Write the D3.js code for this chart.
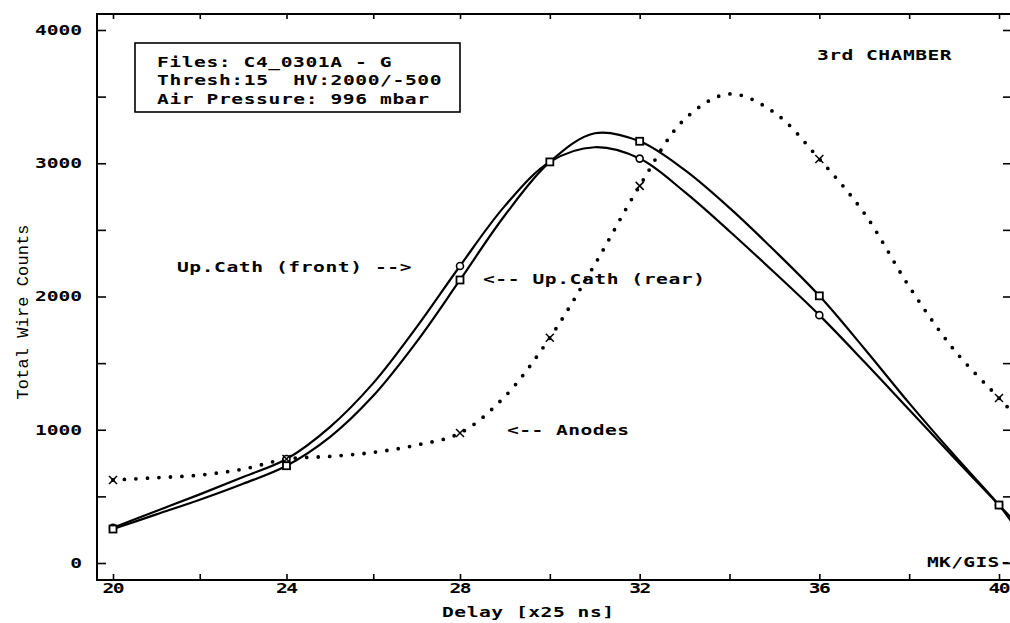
<!DOCTYPE html>
<html>
<head>
<meta charset="utf-8">
<script src="https://cdn.jsdelivr.net/npm/d3@7"></script>
<style>
body { margin: 0; background: #fff; }
text { font-family: "DejaVu Sans Mono", monospace; font-weight: bold; font-size: 14px; fill: #000; white-space: pre; }
</style>
</head>
<body>
<svg id="chart" width="1010" height="623"></svg>
<script>
// delay [x25 ns] sample points for the two cathode curves
const delay = [20, 21, 22, 23, 24, 25, 26, 27, 28, 29, 30, 31, 32, 33, 34, 35, 36, 37, 38, 39, 40, 40.3];
const cathFront = [265, 390, 515, 645, 780, 1020, 1350, 1770, 2229, 2680, 3010, 3120, 3035, 2785, 2490, 2180, 1860, 1510, 1150, 790, 435, 330];
const cathRear  = [255, 365, 475, 595, 730, 945, 1255, 1660, 2124, 2610, 3010, 3225, 3165, 2950, 2665, 2345, 2005, 1610, 1200, 810, 435, 300];

// anode curve (dotted)
const delayAnode = [20, 21, 22, 23, 24, 25, 26, 27, 28, 29, 30, 31, 32, 33, 34, 35, 36, 37, 38, 39, 40, 40.3];
const anodes = [623, 640, 660, 705, 780, 800, 830, 885, 975, 1250, 1690, 2240, 2830, 3330, 3520, 3380, 3032, 2625, 2075, 1600, 1238, 1130];

// measured points that carry a marker
const markFront = [20, 24, 28, 32, 36, 40];
const markRear = [20, 24, 28, 30, 32, 36, 40];
const markAnode = [20, 24, 28, 30, 32, 36, 40];

const xTicks = d3.range(20, 41, 2);
const yTicks = d3.range(0, 4001, 500);
const infoLines = ["Files: C4_0301A - G", "Thresh:15  HV:2000/-500", "Air Pressure: 996 mbar"];

const svg = d3.select("#chart");
const pLeft = 97, pRight = 1011, pTop = 14, pBottom = 580;
const sx = 1.4;   // the plotter font is wide and squat

// the scanned original is slightly stretched right of 28
var x = d3.scaleLinear().domain([20, 28, 40]).range([113, 460, 999]);
var y = d3.scaleLinear().domain([0, 4000]).range([563, 30]);

const wide = function(sel) {
    sel.attr("textLength", function() { return (this.textContent.length * 12.5 - 3) / sx; })
       .attr("lengthAdjust", "spacing");
};

const label = function(s, px, py) {
    return svg.append("text")
        .attr("transform", "translate(" + px + "," + py + ") scale(" + sx + ",1)")
        .text(s)
        .call(wide);
};

svg.append("defs").append("clipPath").attr("id", "plot")
    .append("rect").attr("x", pLeft).attr("y", pTop)
    .attr("width", pRight - pLeft).attr("height", pBottom - pTop);

// axes (ticks point inward)
const bx = svg.append("g").attr("transform", "translate(0," + pBottom + ")")
    .call(d3.axisBottom(x).tickValues(xTicks).tickSize(-6).tickPadding(3)
        .tickFormat(d => d % 4 === 0 ? d : ""));
const tx = svg.append("g").attr("transform", "translate(0," + pTop + ")")
    .call(d3.axisTop(x).tickValues(xTicks).tickSize(-5).tickFormat(""));
const ly = svg.append("g").attr("transform", "translate(" + pLeft + ",0)")
    .call(d3.axisLeft(y).tickValues(yTicks).tickSize(-9).tickPadding(15)
        .tickFormat(d => d % 1000 === 0 ? d : ""));
const ry = svg.append("g").attr("transform", "translate(" + pRight + ",0)")
    .call(d3.axisRight(y).tickValues(yTicks).tickSize(-8).tickFormat(""));

[bx, tx, ly, ry].forEach(function(g) {
    g.select(".domain").remove();
    g.selectAll("line").attr("stroke", "#000").attr("stroke-width", 1.6);
    g.selectAll("text")
        .attr("font-family", null).attr("font-size", null)
        .attr("x", function() { return (+this.getAttribute("x") || 0) / sx; })
        .attr("transform", "scale(" + sx + ",1)")
        .call(wide);
});

svg.append("rect")
    .attr("x", pLeft).attr("y", pTop)
    .attr("width", pRight - pLeft).attr("height", pBottom - pTop)
    .attr("fill", "none").attr("stroke", "#000").attr("stroke-width", 2);

const plot = svg.append("g").attr("clip-path", "url(#plot)");

const line = d3.line()
    .x(d => x(d[0]))
    .y(d => y(d[1]))
    .curve(d3.curveCatmullRom.alpha(0.5));

plot.append("path")
    .datum(delayAnode.map((d, i) => [d, anodes[i]]))
    .attr("d", line)
    .attr("fill", "none")
    .attr("stroke", "#000")
    .attr("stroke-width", 3.8)
    .attr("stroke-linecap", "round")
    .attr("stroke-dasharray", "0 11.5");

[cathFront, cathRear].forEach(function(s) {
    plot.append("path")
        .datum(delay.map((d, i) => [d, s[i]]))
        .attr("d", line)
        .attr("fill", "none")
        .attr("stroke", "#000")
        .attr("stroke-width", 2.2);
});

const valueAt = function(xs, ys, v) { return ys[xs.indexOf(v)]; };

// front: small open circles
plot.selectAll(".mf").data(markFront).enter().append("circle")
    .attr("cx", d => x(d))
    .attr("cy", d => y(valueAt(delay, cathFront, d)))
    .attr("r", 3.5)
    .attr("fill", "#fff").attr("stroke", "#000").attr("stroke-width", 1.6);

// rear: small open squares
plot.selectAll(".mr").data(markRear).enter().append("rect")
    .attr("x", d => x(d) - 3.5)
    .attr("y", d => y(valueAt(delay, cathRear, d)) - 3.5)
    .attr("width", 7).attr("height", 7)
    .attr("fill", "#fff").attr("stroke", "#000").attr("stroke-width", 1.8);

// anodes: crosses
plot.selectAll(".ma").data(markAnode).enter().append("path")
    .attr("transform", d => "translate(" + x(d) + "," + y(valueAt(delayAnode, anodes, d)) + ")")
    .attr("d", "M-4,-4L4,4M-4,4L4,-4")
    .attr("stroke", "#000").attr("stroke-width", 1.5);

// info box
svg.append("rect")
    .attr("x", 135).attr("y", 43).attr("width", 325).attr("height", 69)
    .attr("fill", "#fff").attr("stroke", "#000").attr("stroke-width", 1.6);

infoLines.forEach(function(s, i) {
    label(s, 157, [67, 85, 104][i]);
});

// annotations
label("3rd CHAMBER", 817, 60);
label("Up.Cath (front) -->", 177, 272);
label("<-- Up.Cath (rear)", 483, 284);
label("<-- Anodes", 507, 435);
label("MK/GIS-", 927, 567);

// axis titles
label("Delay [x25 ns]", 442, 617);

svg.append("text")
    .attr("transform", "translate(28,312) rotate(-90)")
    .attr("text-anchor", "middle")
    .style("font-family", "'Liberation Mono', monospace")
    .style("font-weight", "normal")
    .style("font-size", "17px")
    .attr("textLength", 175)
    .attr("lengthAdjust", "spacing")
    .text("Total Wire Counts");
</script>
</body>
</html>
